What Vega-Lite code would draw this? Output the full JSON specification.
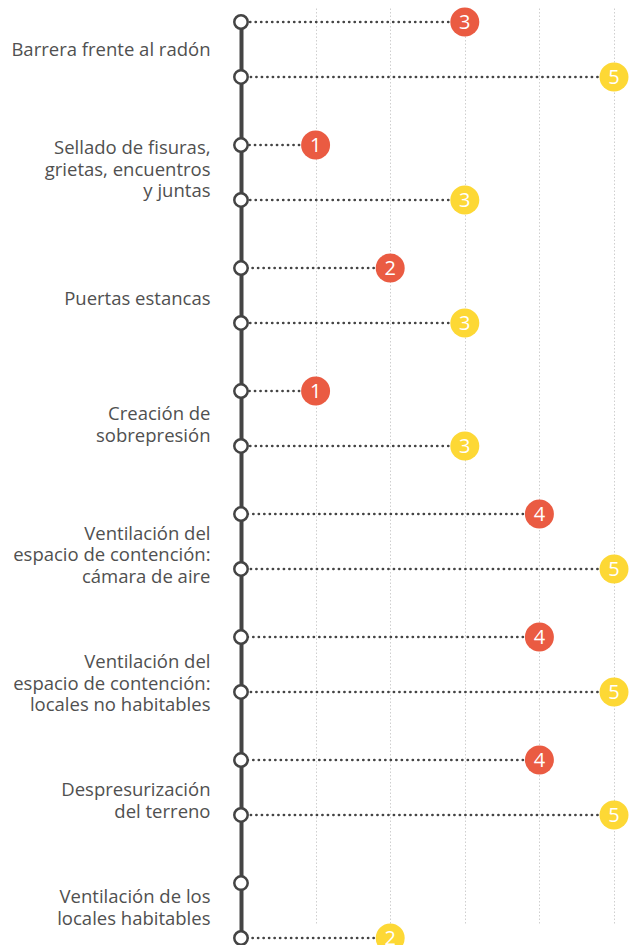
{
  "$schema": "https://vega.github.io/schema/vega-lite/v6.json",
  "width": 373,
  "height": 945,
  "autosize": "none",
  "padding": {"left": 241, "right": 17, "top": 0, "bottom": 0},
  "background": "white",
  "config": {"view": {"stroke": null}},
  "data": {
    "values": [
      {"cat": "Barrera frente al radón", "grp": "a", "value": 3},
      {"cat": "Barrera frente al radón", "grp": "b", "value": 5},
      {"cat": "Sellado de fisuras,|grietas, encuentros|y juntas", "grp": "a", "value": 1},
      {"cat": "Sellado de fisuras,|grietas, encuentros|y juntas", "grp": "b", "value": 3},
      {"cat": "Puertas estancas", "grp": "a", "value": 2},
      {"cat": "Puertas estancas", "grp": "b", "value": 3},
      {"cat": "Creación de|sobrepresión", "grp": "a", "value": 1},
      {"cat": "Creación de|sobrepresión", "grp": "b", "value": 3},
      {"cat": "Ventilación del|espacio de contención:|cámara de aire", "grp": "a", "value": 4},
      {"cat": "Ventilación del|espacio de contención:|cámara de aire", "grp": "b", "value": 5},
      {"cat": "Ventilación del|espacio de contención:|locales no habitables", "grp": "a", "value": 4},
      {"cat": "Ventilación del|espacio de contención:|locales no habitables", "grp": "b", "value": 5},
      {"cat": "Despresurización|del terreno", "grp": "a", "value": 4},
      {"cat": "Despresurización|del terreno", "grp": "b", "value": 5},
      {"cat": "Ventilación de los|locales habitables", "grp": "a", "value": null},
      {"cat": "Ventilación de los|locales habitables", "grp": "b", "value": 2}
    ]
  },
  "layer": [
    {
      "transform": [{"filter": "datum.grp === 'a'"}],
      "encoding": {
        "y": {
          "field": "cat",
          "type": "nominal",
          "bandPosition": 0,
          "scale": {
            "domain": ["Barrera frente al radón", "Sellado de fisuras,|grietas, encuentros|y juntas", "Puertas estancas", "Creación de|sobrepresión", "Ventilación del|espacio de contención:|cámara de aire", "Ventilación del|espacio de contención:|locales no habitables", "Despresurización|del terreno", "Ventilación de los|locales habitables"],
            "range": [22, 938],
            "paddingInner": 0.553,
            "paddingOuter": 0
          },
          "axis": {
            "title": null,
            "domain": true,
            "domainColor": "#444444",
            "domainWidth": 4,
            "domainCap": "round",
            "ticks": false,
            "grid": false,
            "labelExpr": "split(datum.label, '|')",
            "labelPadding": 31,
            "labelFont": "Open Sans",
            "labelFontSize": 18.5,
            "labelColor": "#505050",
            "labelLineHeight": 21.5,
            "labelAlign": "right",
            "labelBaseline": "middle",
            "labelLimit": 300,
            "labelOffset": {
              "condition": [
                {"test": "datum.value === 'Sellado de fisuras,|grietas, encuentros|y juntas'", "value": -24},
                {"test": "datum.value === 'Puertas estancas'", "value": 4},
                {"test": "datum.value === 'Creación de|sobrepresión'", "value": -4},
                {"test": "datum.value === 'Ventilación del|espacio de contención:|cámara de aire'", "value": -8},
                {"test": "datum.value === 'Ventilación del|espacio de contención:|locales no habitables'", "value": -2.5},
                {"test": "datum.value === 'Despresurización|del terreno'", "value": 2.5},
                {"test": "datum.value === 'Ventilación de los|locales habitables'", "value": -13.5}
              ],
              "value": 1
            }
          }
        }
      },
      "layer": [
        {
          "transform": [{"filter": "isValid(datum.value)"}],
          "mark": {"type": "rule", "color": "#444444", "strokeWidth": 2.7, "strokeCap": "round", "strokeDash": [0.1, 5.4]},
          "encoding": {
            "x": {
              "field": "value",
              "type": "quantitative",
              "scale": {"domain": [0, 5], "nice": false, "zero": true},
              "axis": {"values": [1, 2, 3, 4, 5], "grid": true, "gridColor": "#cfcfcf", "gridWidth": 1, "gridDash": [1.5, 2], "labels": false, "ticks": false, "domain": false, "title": null}
            },
            "x2": {"datum": 0}
          }
        },
        {
          "mark": {"type": "point", "shape": "circle", "filled": false, "fill": "white", "fillOpacity": 1, "stroke": "#444444", "strokeWidth": 2.5, "size": 180, "opacity": 1},
          "encoding": {"x": {"datum": 0, "type": "quantitative"}}
        },
        {
          "transform": [{"filter": "isValid(datum.value)"}],
          "mark": {"type": "point", "shape": "circle", "filled": true, "color": "#EA5B42", "size": 840, "opacity": 1},
          "encoding": {"x": {"field": "value", "type": "quantitative"}}
        },
        {
          "transform": [{"filter": "isValid(datum.value)"}],
          "mark": {"type": "text", "color": "white", "font": "Open Sans", "fontSize": 20, "align": "center", "baseline": "middle", "dy": 1},
          "encoding": {
            "x": {"field": "value", "type": "quantitative"},
            "text": {"field": "value", "type": "quantitative"}
          }
        }
      ]
    },
    {
      "transform": [{"filter": "datum.grp === 'b'"}],
      "encoding": {
        "y": {
          "field": "cat",
          "type": "nominal",
          "bandPosition": 1,
          "axis": {
            "title": null,
            "domain": true,
            "domainColor": "#444444",
            "domainWidth": 4,
            "domainCap": "round",
            "ticks": false,
            "grid": false,
            "labelExpr": "split(datum.label, '|')",
            "labelPadding": 31,
            "labelFont": "Open Sans",
            "labelFontSize": 18.5,
            "labelColor": "#505050",
            "labelLineHeight": 21.5,
            "labelAlign": "right",
            "labelBaseline": "middle",
            "labelLimit": 300,
            "labelOffset": {
              "condition": [
                {"test": "datum.value === 'Sellado de fisuras,|grietas, encuentros|y juntas'", "value": -24},
                {"test": "datum.value === 'Puertas estancas'", "value": 4},
                {"test": "datum.value === 'Creación de|sobrepresión'", "value": -4},
                {"test": "datum.value === 'Ventilación del|espacio de contención:|cámara de aire'", "value": -8},
                {"test": "datum.value === 'Ventilación del|espacio de contención:|locales no habitables'", "value": -2.5},
                {"test": "datum.value === 'Despresurización|del terreno'", "value": 2.5},
                {"test": "datum.value === 'Ventilación de los|locales habitables'", "value": -13.5}
              ],
              "value": 1
            }
          }
        }
      },
      "layer": [
        {
          "transform": [{"filter": "isValid(datum.value)"}],
          "mark": {"type": "rule", "color": "#444444", "strokeWidth": 2.7, "strokeCap": "round", "strokeDash": [0.1, 5.4]},
          "encoding": {
            "x": {"field": "value", "type": "quantitative"},
            "x2": {"datum": 0}
          }
        },
        {
          "mark": {"type": "point", "shape": "circle", "filled": false, "fill": "white", "fillOpacity": 1, "stroke": "#444444", "strokeWidth": 2.5, "size": 180, "opacity": 1},
          "encoding": {"x": {"datum": 0, "type": "quantitative"}}
        },
        {
          "transform": [{"filter": "isValid(datum.value)"}],
          "mark": {"type": "point", "shape": "circle", "filled": true, "color": "#FDD835", "size": 840, "opacity": 1},
          "encoding": {"x": {"field": "value", "type": "quantitative"}}
        },
        {
          "transform": [{"filter": "isValid(datum.value)"}],
          "mark": {"type": "text", "color": "white", "font": "Open Sans", "fontSize": 20, "align": "center", "baseline": "middle", "dy": 1},
          "encoding": {
            "x": {"field": "value", "type": "quantitative"},
            "text": {"field": "value", "type": "quantitative"}
          }
        }
      ]
    }
  ]
}
